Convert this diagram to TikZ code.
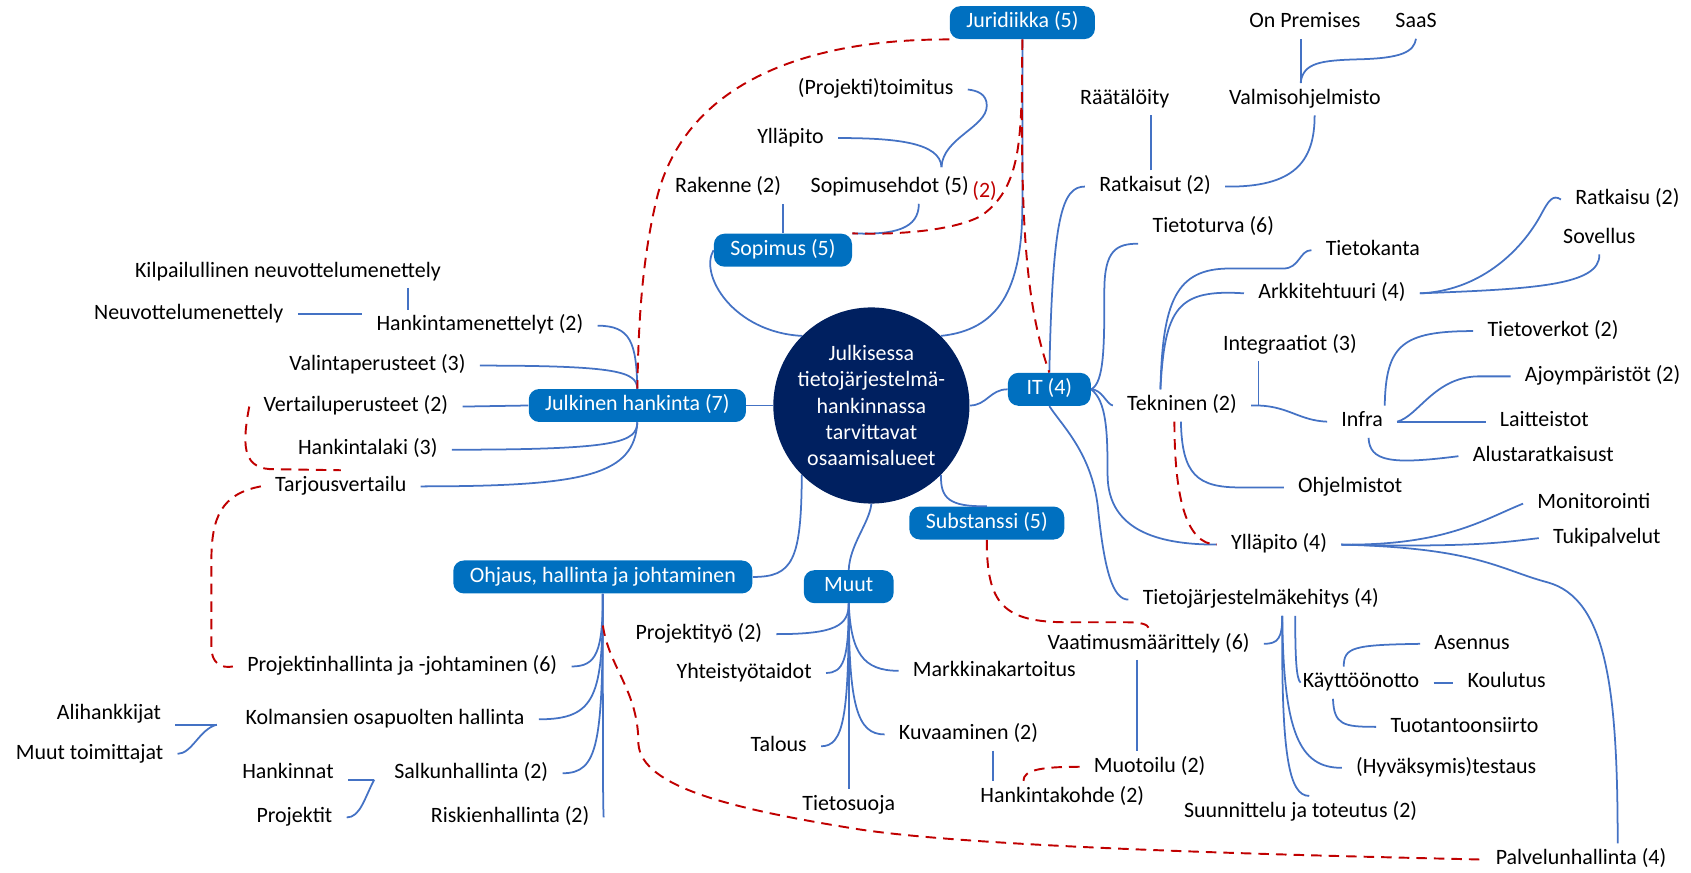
\documentclass[tikz,border=0pt]{standalone}
\usepackage{fontspec}
\setmainfont{Carlito}
\usepackage{tikz}
\definecolor{mapblue}{HTML}{0070C0}
\definecolor{edgeblue}{HTML}{4472C4}
\definecolor{corenavy}{HTML}{002060}
\definecolor{relred}{HTML}{C00000}

\begin{document}
\begin{tikzpicture}[x=0.0216cm, y=-0.0216cm,
  every node/.style={font=\fontsize{12.5}{15}\selectfont},
  leaf/.style={inner xsep=8pt, inner ysep=3pt, text height=9pt, text depth=3pt},
  branchbox/.style={fill=mapblue, text=white, rounded corners=6pt, minimum height=0.66cm,
    inner xsep=0.33cm, text height=9pt, text depth=3pt},
  conn/.style={edgeblue, line width=1pt},
  crossref/.style={relred, line width=1.1pt, dash pattern=on 6pt off 4pt}
]
\useasboundingbox (0,0) rectangle (1568,809);

\node[circle, fill=corenavy, text=white, minimum size=3.93cm, inner sep=0pt, align=center] (core) at (808,376)
  {Julkisessa\\tietojärjestelmä-\\hankinnassa\\tarvittavat\\osaamisalueet};

\node[branchbox] (juri) at (948,21) {Juridiikka (5)};
\node[branchbox] (sopimus) at (726,232) {Sopimus (5)};
\node[branchbox] (julkinen) at (591,376) {Julkinen hankinta (7)};
\node[branchbox, minimum width=1.66cm] (it) at (973,361) {IT (4)};
\node[branchbox] (substanssi) at (915,485) {Substanssi (5)};
\node[branchbox, minimum width=1.8cm] (muut) at (787,544) {Muut};
\node[branchbox] (ohjaus) at (559,535) {Ohjaus, hallinta ja johtaminen};

\node[leaf] (kilpailullinen) at (267,252) {Kilpailullinen neuvottelumenettely};
\node[leaf] (neuvottelu) at (175,291) {Neuvottelumenettely};
\node[leaf] (menettelyt) at (445,302) {Hankintamenettelyt (2)};
\node[leaf] (valinta) at (350,339) {Valintaperusteet (3)};
\node[leaf] (vertailu) at (330,377) {Vertailuperusteet (2)};
\node[leaf] (laki) at (341,417) {Hankintalaki (3)};
\node[leaf] (tarjous) at (316,451) {Tarjousvertailu};
\node[leaf] (projhall) at (373,618) {Projektinhallinta ja -johtaminen (6)};
\node[leaf] (kolmannet) at (357,667) {Kolmansien osapuolten hallinta};
\node[leaf] (alihankkijat) at (101,662) {Alihankkijat};
\node[leaf] (toimittajat) at (83,699) {Muut toimittajat};
\node[leaf] (hankinnat) at (267,717) {Hankinnat};
\node[leaf] (salkku) at (437,717) {Salkunhallinta (2)};
\node[leaf] (projektit) at (273,758) {Projektit};
\node[leaf] (riskit) at (473,758) {Riskienhallinta (2)};
\node[leaf] (projektityo) at (648,588) {Projektityö (2)};
\node[leaf] (yhteistyo) at (690,624) {Yhteistyötaidot};
\node[leaf] (talous) at (722,692) {Talous};
\node[leaf] (tietosuoja) at (787,747) {Tietosuoja};
\node[leaf] (markkina) at (922,622) {Markkinakartoitus};
\node[leaf] (kuvaaminen) at (898,681) {Kuvaaminen (2)};
\node[leaf] (kohde) at (985,739) {Hankintakohde (2)};
\node[leaf] (muotoilu) at (1066,711) {Muotoilu (2)};
\node[leaf] (vaatimus) at (1065,597) {Vaatimusmäärittely (6)};
\node[leaf] (tjkehitys) at (1169,556) {Tietojärjestelmäkehitys (4)};
\node[leaf] (kaytto) at (1262,633) {Käyttöönotto};
\node[leaf] (asennus) at (1365,597) {Asennus};
\node[leaf] (koulutus) at (1397,633) {Koulutus};
\node[leaf] (siirto) at (1358,674) {Tuotantoonsiirto};
\node[leaf] (testaus) at (1341,712) {(Hyväksymis)testaus};
\node[leaf] (suunnittelu) at (1206,753) {Suunnittelu ja toteutus (2)};
\node[leaf] (palvelu) at (1466,797) {Palvelunhallinta (4)};
\node[leaf] (yllapitoIT) at (1186,505) {Ylläpito (4)};
\node[leaf] (monitorointi) at (1478,467) {Monitorointi};
\node[leaf] (tuki) at (1490,499) {Tukipalvelut};
\node[leaf] (ohjelmistot) at (1252,452) {Ohjelmistot};
\node[leaf] (tekninen) at (1096,376) {Tekninen (2)};
\node[leaf] (infra) at (1263,391) {Infra};
\node[leaf] (laitteistot) at (1432,391) {Laitteistot};
\node[leaf] (alusta) at (1431,423) {Alustaratkaisust};
\node[leaf] (ajo) at (1486,349) {Ajoympäristöt (2)};
\node[leaf] (verkot) at (1440,307) {Tietoverkot (2)};
\node[leaf] (integraatiot) at (1196,320) {Integraatiot (3)};
\node[leaf] (arkkitehtuuri) at (1235,272) {Arkkitehtuuri (4)};
\node[leaf] (tietokanta) at (1273,232) {Tietokanta};
\node[leaf] (tietoturva) at (1125,211) {Tietoturva (6)};
\node[leaf] (ratkaisu) at (1509,185) {Ratkaisu (2)};
\node[leaf] (sovellus) at (1483,221) {Sovellus};
\node[leaf] (ratkaisut) at (1071,173) {Ratkaisut (2)};
\node[leaf] (raataloity) at (1043,92) {Räätälöity};
\node[leaf] (valmis) at (1210,92) {Valmisohjelmisto};
\node[leaf] (onprem) at (1210,21) {On Premises};
\node[leaf] (saas) at (1313,21) {SaaS};
\node[leaf] (toimitus) at (812,83) {(Projekti)toimitus};
\node[leaf] (yllapitoS) at (733,128) {Ylläpito};
\node[leaf] (rakenne) at (675,174) {Rakenne (2)};
\node[leaf] (ehdot) at (825,174) {Sopimusehdot (5)};
\node[leaf, text=relred] (kaksi) at (913,178) {(2)};

% Julkinen hankinta
\draw[conn] (julkinen.east) -- (core.west);
\draw[conn] (julkinen.north) .. controls (590,318) and (585,302) .. (menettelyt.east);
\draw[conn] (julkinen.north) .. controls (590,345) and (575,339) .. (valinta.east);
\draw[conn] (julkinen.west) -- (vertailu.east);
\draw[conn] (julkinen.south) .. controls (590,410) and (575,417) .. (laki.east);
\draw[conn] (julkinen.south) .. controls (588,440) and (545,451) .. (tarjous.east);
\draw[conn] (neuvottelu.east) -- (neuvottelu.east -| menettelyt.west);
\draw[conn] (378,0 |- kilpailullinen.south) -- (378,0 |- menettelyt.north);

% Ohjaus
\draw[conn] (core.225) .. controls (743,520) and (735,535) .. (ohjaus.east);
\draw[conn] (ohjaus.south) .. controls (559,605) and (553,618) .. (projhall.east);
\draw[conn] (ohjaus.south) .. controls (559,645) and (553,667) .. (kolmannet.east);
\draw[conn] (ohjaus.south) .. controls (559,690) and (555,717) .. (salkku.east);
\draw[conn] (ohjaus.south) .. controls (559,700) and (559,745) .. (riskit.east);
\coordinate (kojoin) at (201,672);
\draw[conn] (kojoin) -- (alihankkijat.east |- kojoin);
\draw[conn] (kojoin) .. controls (185,676) and (178,699) .. (toimittajat.east);
\coordinate (sajoin) at (347,723);
\draw[conn] (sajoin) -- (hankinnat.east |- sajoin);
\draw[conn] (sajoin) .. controls (338,740) and (334,758) .. (projektit.east);

% Muut
\draw[conn] (core.south) .. controls (806,485) and (788,505) .. (muut.north);
\draw[conn] (muut.south) -- (tietosuoja.north);
\draw[conn] (muut.south) .. controls (787,580) and (775,588) .. (projektityo.east);
\draw[conn] (muut.south) .. controls (787,612) and (782,624) .. (yhteistyo.east);
\draw[conn] (muut.south) .. controls (789,605) and (800,622) .. (markkina.west);
\draw[conn] (muut.south) .. controls (787,665) and (782,692) .. (talous.east);
\draw[conn] (muut.south) .. controls (787,655) and (795,681) .. (kuvaaminen.west);
\draw[conn] (921,0 |- kuvaaminen.south) -- (921,0 |- kohde.north);

% Substanssi
\draw[conn] (core.315) .. controls (872,462) and (880,470) .. (substanssi.north);
\draw[conn] (1054,0 |- vaatimus.south) -- (1054,0 |- muotoilu.north);

% IT
\draw[conn] (core.east) .. controls (915,376) and (918,361) .. (it.west);
\draw[conn] (it.north) .. controls (976,200) and (985,173) .. (ratkaisut.west);
\draw[conn] (it.east) .. controls (1024,355) and (1024,320) .. (1024,270)
  .. controls (1024,232) and (1035,226) .. (tietoturva.south west);
\draw[conn] (it.east) .. controls (1022,361) and (1026,375) .. (tekninen.west);
\draw[conn] (it.east) .. controls (1026,372) and (1027,400) .. (1027,440)
  .. controls (1027,495) and (1080,505) .. (yllapitoIT.west);
\draw[conn] (it.south) .. controls (985,395) and (1012,420) .. (1018,470)
  .. controls (1024,530) and (1032,556) .. (tjkehitys.west);

\draw[conn] (1067,0 |- ratkaisut.north) -- (1067,0 |- raataloity.south);
\draw[conn] (ratkaisut.east) .. controls (1200,174) and (1219,150) .. (1219,0 |- valmis.south);
\draw[conn] (1206,0 |- valmis.north) -- (1206,0 |- onprem.south);
\draw[conn] (1206,0 |- valmis.north) .. controls (1208,58) and (1225,56) .. (1260,55)
  .. controls (1300,54) and (1311,48) .. (saas.south);

\draw[conn] (1076,0 |- tekninen.north) .. controls (1078,280) and (1090,249) .. (1140,249) -- (1190,249)
  .. controls (1205,249) and (1205,232) .. (tietokanta.west);
\draw[conn] (1076,0 |- tekninen.north) .. controls (1080,285) and (1092,268) .. (arkkitehtuuri.west);
\coordinate (tejoin) at (1167,376);
\draw[conn] (tekninen.east) -- (tejoin) .. controls (1195,377) and (1205,390) .. (infra.west);
\draw[conn] (tejoin |- integraatiot.south) -- (tejoin);
\draw[conn] (1095,0 |- tekninen.south) .. controls (1096,440) and (1110,452) .. (1150,452) -- (ohjelmistot.west);

\draw[conn] (arkkitehtuuri.east) .. controls (1370,270) and (1410,235) .. (1430,197)
  .. controls (1436,186) and (1440,180) .. (ratkaisu.west);
\draw[conn] (arkkitehtuuri.east) .. controls (1420,268) and (1484,265) .. (sovellus.south);

\draw[conn] (1284,0 |- infra.north) .. controls (1285,320) and (1300,307) .. (verkot.west);
\draw[conn] (infra.east) .. controls (1315,386) and (1330,350) .. (1370,349) -- (ajo.west);
\draw[conn] (infra.east) -- (laitteistot.west);
\draw[conn] (1269,0 |- infra.south) .. controls (1270,428) and (1290,431) .. (alusta.west);

\draw[conn] (yllapitoIT.east) .. controls (1340,506) and (1375,482) .. (monitorointi.west);
\draw[conn] (yllapitoIT.east) .. controls (1370,508) and (1400,502) .. (tuki.west);
\draw[conn] (yllapitoIT.east) .. controls (1370,508) and (1390,528) .. (1435,540)
  .. controls (1490,555) and (1500,640) .. (1500,0 |- palvelu.north);

\coordinate (tkjoin) at (1189,571);
\draw[conn] (tkjoin) .. controls (1189,592) and (1185,597) .. (vaatimus.east);
\draw[conn] (1201,0 |- tjkehitys.south) .. controls (1201,610) and (1202,630) .. (kaytto.west -| 1206,0);
\draw[conn] (tkjoin) .. controls (1190,680) and (1205,712) .. (testaus.west);
\draw[conn] (tkjoin) .. controls (1188,700) and (1195,738) .. (1214,0 |- suunnittelu.north);
\draw[conn] (1246,0 |- kaytto.north) .. controls (1246,600) and (1255,598) .. (asennus.west);
\draw[conn] (kaytto.east) -- (koulutus.west);
\draw[conn] (1236,0 |- kaytto.south) .. controls (1237,672) and (1245,674) .. (siirto.west);

% Juridiikka ja Sopimus
\draw[conn] (core.45) .. controls (925,306) and (948,270) .. (948,190) -- (juri.south);
\draw[conn] (sopimus.west) .. controls (648,255) and (680,308) .. (core.135);
\draw[conn] (sopimus.north) -- (sopimus.north |- rakenne.south);
\draw[conn] (sopimus.north east) .. controls (830,218) and (852,212) .. (852,0 |- ehdot.south);
\coordinate (ehjoin) at (873,155);
\draw[conn] (ehjoin) .. controls (874,128) and (915,118) .. (915,98)
  .. controls (915,87) and (906,84) .. (toimitus.east);
\draw[conn] (ehjoin) .. controls (872,132) and (830,128) .. (yllapitoS.east);

% katkoviivat
\draw[crossref] (juri.south west) .. controls (760,36) and (640,70) .. (610,180)
  .. controls (595,240) and (592,300) .. (julkinen.north);
\draw[crossref] (juri.south) .. controls (946,200) and (950,280) .. (it.north);
\coordinate (jusplit) at (947,100);
\draw[crossref] (jusplit) .. controls (945,150) and (938,180) .. (910,200)
  .. controls (885,214) and (830,218) .. (sopimus.north east);
\draw[crossref] (substanssi.south) .. controls (915,560) and (930,577) .. (990,577) -- (1045,577)
  .. controls (1058,577) and (1064,579) .. (vaatimus.north);
\draw[crossref] (muotoilu.west) .. controls (965,711) and (949,714) .. (949,0 |- kohde.north);
\draw[crossref] (1089,0 |- tekninen.south) .. controls (1089,455) and (1098,505) .. (yllapitoIT.west);
\draw[crossref] (vertailu.west) .. controls (225,410) and (224,433) .. (250,435) -- (tarjous.north);
\draw[crossref] (tarjous.west) .. controls (205,458) and (196,480) .. (196,520) -- (196,600)
  .. controls (196,615) and (205,620) .. (projhall.west);
\coordinate (ohsplit) at (559,580);
\draw[crossref] (ohsplit) .. controls (565,620) and (592,640) .. (592,690)
  .. controls (595,730) and (680,750) .. (790,768)
  .. controls (900,786) and (1200,793) .. (palvelu.west);
\end{tikzpicture}
\end{document}
